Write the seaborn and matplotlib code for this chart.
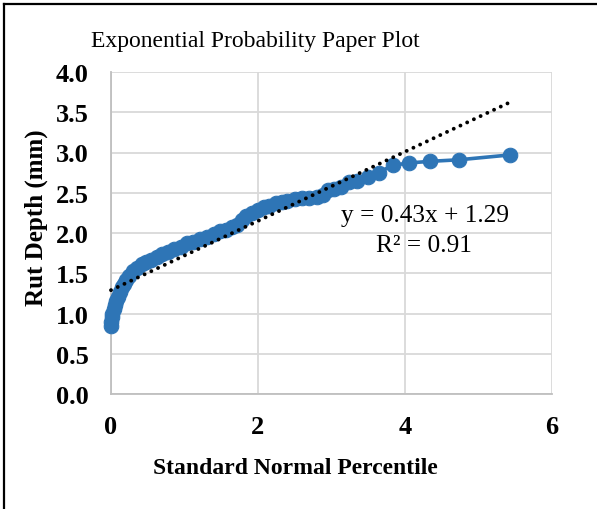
import matplotlib
matplotlib.use("Agg")
import matplotlib.pyplot as plt
import seaborn as sns
import pandas as pd
import numpy as np

# percentile (x) vs rut depth (y)
percentile = [0.00, 0.005, 0.01, 0.02, 0.035, 0.05, 0.07, 0.09, 0.12, 0.15,
              0.18, 0.21, 0.25, 0.30, 0.36, 0.42, 0.48, 0.55, 0.62, 0.70,
              0.78, 0.86, 0.95, 1.04, 1.12, 1.21, 1.30, 1.40, 1.48, 1.56,
              1.64, 1.72, 1.78, 1.84, 1.92, 2.00, 2.08, 2.15, 2.24, 2.32,
              2.40, 2.50, 2.60, 2.70, 2.80, 2.88, 2.95, 3.04, 3.13, 3.24,
              3.35, 3.49, 3.64, 3.83, 4.05, 4.34, 4.74, 5.43]
rut_depth = [0.84, 0.90, 0.96, 1.00, 1.05, 1.10, 1.16, 1.21, 1.27, 1.33,
             1.37, 1.41, 1.47, 1.53, 1.57, 1.61, 1.64, 1.67, 1.70, 1.74,
             1.77, 1.80, 1.83, 1.87, 1.89, 1.93, 1.95, 1.99, 2.02, 2.04,
             2.07, 2.10, 2.16, 2.21, 2.25, 2.28, 2.32, 2.34, 2.37, 2.39,
             2.40, 2.42, 2.43, 2.44, 2.45, 2.47, 2.53, 2.55, 2.57, 2.63,
             2.65, 2.70, 2.75, 2.84, 2.87, 2.89, 2.91, 2.97]

slope = 0.43
intercept = 1.29
r2 = 0.91

plt.rcParams['font.family'] = ['Liberation Serif', 'DejaVu Serif']

df = pd.DataFrame({'x': percentile, 'y': rut_depth})
blue = '#2E75B6'

fig = plt.figure(figsize=(5.97, 5.10), dpi=100)
ax = fig.add_axes([111/597, 1-395/510, (552-111)/597, (395-73)/510])

sns.lineplot(x='x', y='y', data=df, sort=False, ax=ax, color=blue,
             linewidth=2.6, marker='o', markersize=10.5,
             markeredgecolor=blue, markerfacecolor=blue, zorder=3,
             clip_on=False)

# linear trendline from the shown equation
tx = np.array([0, max(percentile)])
ax.plot(tx, slope * tx + intercept, color='black', linewidth=2.8,
        linestyle=(0, (0.01, 1.9)), dash_capstyle='round', zorder=4,
        clip_on=False)

ax.set_xlim(0, 6)
ax.set_ylim(0, 4)
ax.set_xticks([0, 2, 4, 6])
ax.set_yticks(np.arange(0, 4.01, 0.5))
ax.set_yticklabels([f'{v:.1f}' for v in np.arange(0, 4.01, 0.5)])
ax.grid(True, color='#d9d9d9', linewidth=1.3)
ax.set_axisbelow(True)
for s in ax.spines.values():
    s.set_visible(False)
ax.spines['left'].set_visible(True)
ax.spines['bottom'].set_visible(True)
ax.spines['left'].set_color('#bfbfbf')
ax.spines['bottom'].set_color('#bfbfbf')
ax.spines['left'].set_linewidth(1.3)
ax.spines['bottom'].set_linewidth(1.3)
ax.tick_params(length=0, labelsize=19)
ax.tick_params(axis='y', pad=16)
ax.tick_params(axis='x', pad=15)
for lab in ax.get_xticklabels() + ax.get_yticklabels():
    lab.set_fontweight('bold')
ax.set_xlabel('')
ax.set_ylabel('')

fig.text(255/597, 1-42/510, 'Exponential Probability Paper Plot',
         ha='center', va='center', fontsize=17)
fig.text(295/597, 1-469/510, 'Standard Normal Percentile',
         ha='center', va='center', fontsize=17, fontweight='bold')
fig.text(36/597, 1-218/510, 'Rut Depth (mm)', rotation=90,
         ha='center', va='center', fontsize=18, fontweight='bold')

ax.text(425/597, 1-216/510, f'y = {slope}x + {intercept}', transform=fig.transFigure,
        ha='center', va='center', fontsize=18.3)
ax.text(424/597, 1-246/510, f'R² = {r2}', transform=fig.transFigure,
        ha='center', va='center', fontsize=18.3)

# chart border (left and top visible)
fig.add_artist(plt.Line2D([4/597, 4/597], [0, 1-5/510], color='black', linewidth=1.6))
fig.add_artist(plt.Line2D([4/597, 1], [1-5/510, 1-5/510], color='black', linewidth=1.6))

fig.savefig('out.png', dpi=100)
